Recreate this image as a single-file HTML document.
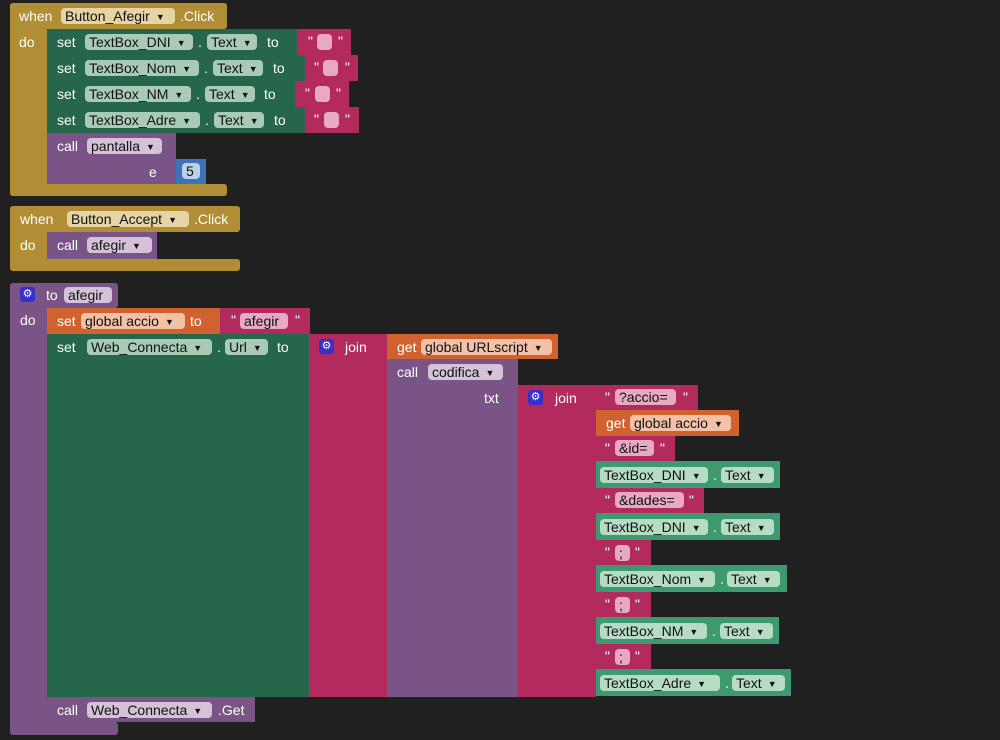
<!DOCTYPE html>
<html><head><meta charset="utf-8"><style>
body{margin:0;width:1000px;height:740px;background:#202020;overflow:hidden;position:relative;font-family:"Liberation Sans",sans-serif}
div{position:absolute;box-sizing:border-box}
.b{border-radius:3px}
.g{background:#b18e35}.gr{background:#26664a}.m{background:#b32a5e}.p{background:#7b5487}.o{background:#d0622f}.bl{background:#3c72b8}.c{background:#3e9a6e}
.t{color:#fff;font-size:14px;line-height:16px;white-space:nowrap}
.f{height:16px;border-radius:4px;font-size:14px;line-height:16px;color:#111;padding:0 4px;white-space:nowrap}
.fg{background:#e6d4a4}.fgr{background:#a9cbb6}.fm{background:#e7a9c3}.fp{background:#d4c2d8}.fo{background:#f2c1a7}.fb{background:#bcd0ea}.fc{background:#b6dcc6}
.ar{font-size:9px;vertical-align:1px;margin-left:6px}
.gear{width:15px;height:15px;background:#3a2fcc;border-radius:3px;color:#fff;font-size:11px;line-height:15px;text-align:center}
</style></head><body>
<!-- Block 1 -->
<div class="g b" style="left:10px;top:3px;width:217px;height:26px"></div>
<div class="g b" style="left:10px;top:3px;width:37px;height:193px"></div>
<div class="g b" style="left:10px;top:184px;width:217px;height:12px"></div>
<div class="t" style="left:19px;top:8px">when</div>
<div class="f fg" style="left:61px;top:8px;width:114px">Button_Afegir<span class="ar">▼</span></div>
<div class="t" style="left:180px;top:8px">.Click</div>
<div class="t" style="left:19px;top:34px">do</div>

<div class="gr" style="left:47px;top:29px;width:253px;height:26px"></div>
<div class="m" style="left:297px;top:29px;width:54px;height:26px"></div>
<div class="gr" style="left:47px;top:55px;width:259px;height:26px"></div>
<div class="m" style="left:305px;top:55px;width:53px;height:26px"></div>
<div class="gr" style="left:47px;top:81px;width:249px;height:26px"></div>
<div class="m" style="left:295px;top:81px;width:54px;height:26px"></div>
<div class="gr" style="left:47px;top:107px;width:259px;height:26px"></div>
<div class="m" style="left:305px;top:107px;width:54px;height:26px"></div>

<div class="t" style="left:57px;top:34px">set</div><div class="f fgr" style="left:85px;top:34px;width:108px">TextBox_DNI<span class="ar">▼</span></div><div class="t" style="left:198px;top:34px">.</div><div class="f fgr" style="left:207px;top:34px;width:50px">Text<span class="ar">▼</span></div><div class="t" style="left:267px;top:34px">to</div>
<div class="t" style="left:308px;top:33px">"</div><div class="f fm" style="left:317px;top:34px;width:15px"></div><div class="t" style="left:338px;top:33px">"</div>
<div class="t" style="left:57px;top:60px">set</div><div class="f fgr" style="left:85px;top:60px;width:114px">TextBox_Nom<span class="ar">▼</span></div><div class="t" style="left:204px;top:60px">.</div><div class="f fgr" style="left:213px;top:60px;width:50px">Text<span class="ar">▼</span></div><div class="t" style="left:273px;top:60px">to</div>
<div class="t" style="left:314px;top:59px">"</div><div class="f fm" style="left:323px;top:60px;width:15px"></div><div class="t" style="left:345px;top:59px">"</div>
<div class="t" style="left:57px;top:86px">set</div><div class="f fgr" style="left:85px;top:86px;width:106px">TextBox_NM<span class="ar">▼</span></div><div class="t" style="left:196px;top:86px">.</div><div class="f fgr" style="left:205px;top:86px;width:50px">Text<span class="ar">▼</span></div><div class="t" style="left:264px;top:86px">to</div>
<div class="t" style="left:305px;top:85px">"</div><div class="f fm" style="left:315px;top:86px;width:15px"></div><div class="t" style="left:336px;top:85px">"</div>
<div class="t" style="left:57px;top:112px">set</div><div class="f fgr" style="left:85px;top:112px;width:115px">TextBox_Adre<span class="ar">▼</span></div><div class="t" style="left:205px;top:112px">.</div><div class="f fgr" style="left:214px;top:112px;width:50px">Text<span class="ar">▼</span></div><div class="t" style="left:274px;top:112px">to</div>
<div class="t" style="left:314px;top:111px">"</div><div class="f fm" style="left:324px;top:112px;width:15px"></div><div class="t" style="left:345px;top:111px">"</div>

<div class="p" style="left:47px;top:133px;width:129px;height:51px"></div>
<div class="t" style="left:57px;top:138px">call</div><div class="f fp" style="left:87px;top:138px;width:75px">pantalla<span class="ar">▼</span></div>
<div class="t" style="left:149px;top:164px">e</div>
<div class="bl" style="left:176px;top:159px;width:30px;height:25px"></div>
<div class="f fb" style="left:182px;top:163px;width:18px">5</div>

<!-- Block 2 -->
<div class="g b" style="left:10px;top:206px;width:230px;height:26px"></div>
<div class="g b" style="left:10px;top:206px;width:37px;height:65px"></div>
<div class="g b" style="left:10px;top:259px;width:230px;height:12px"></div>
<div class="t" style="left:20px;top:211px">when</div>
<div class="f fg" style="left:67px;top:211px;width:122px">Button_Accept<span class="ar">▼</span></div>
<div class="t" style="left:194px;top:211px">.Click</div>
<div class="t" style="left:20px;top:237px">do</div>
<div class="p" style="left:47px;top:232px;width:110px;height:27px"></div>
<div class="t" style="left:57px;top:237px">call</div><div class="f fp" style="left:87px;top:237px;width:65px">afegir<span class="ar">▼</span></div>

<!-- Block 3 -->
<div class="p b" style="left:10px;top:283px;width:108px;height:25px"></div>
<div class="p b" style="left:10px;top:283px;width:37px;height:452px"></div>
<div class="p b" style="left:10px;top:722px;width:108px;height:13px"></div>
<div class="gear" style="left:20px;top:287px">⚙</div>
<div class="t" style="left:46px;top:287px">to</div>
<div class="f fp" style="left:64px;top:287px;width:48px">afegir</div>
<div class="t" style="left:20px;top:312px">do</div>

<div class="o" style="left:47px;top:308px;width:174px;height:26px"></div>
<div class="t" style="left:57px;top:313px">set</div><div class="f fo" style="left:81px;top:313px;width:104px">global accio<span class="ar">▼</span></div><div class="t" style="left:190px;top:313px">to</div>
<div class="m" style="left:220px;top:308px;width:90px;height:26px"></div>
<div class="t" style="left:231px;top:312px">"</div><div class="f fm" style="left:240px;top:313px;width:48px">afegir</div><div class="t" style="left:295px;top:312px">"</div>

<div class="gr" style="left:47px;top:334px;width:262px;height:363px"></div>
<div class="t" style="left:57px;top:339px">set</div><div class="f fgr" style="left:87px;top:339px;width:125px">Web_Connecta<span class="ar">▼</span></div><div class="t" style="left:217px;top:339px">.</div><div class="f fgr" style="left:225px;top:339px;width:43px">Url<span class="ar">▼</span></div><div class="t" style="left:277px;top:339px">to</div>

<div class="m" style="left:309px;top:334px;width:78px;height:363px"></div>
<div class="gear" style="left:319px;top:339px">⚙</div><div class="t" style="left:345px;top:339px">join</div>
<div class="o" style="left:387px;top:334px;width:171px;height:25px"></div>
<div class="t" style="left:397px;top:339px">get</div><div class="f fo" style="left:421px;top:339px;width:131px">global URLscript<span class="ar">▼</span></div>
<div class="p" style="left:387px;top:359px;width:131px;height:338px"></div>
<div class="t" style="left:397px;top:364px">call</div><div class="f fp" style="left:428px;top:364px;width:75px">codifica<span class="ar">▼</span></div>
<div class="t" style="left:484px;top:390px">txt</div>

<div class="m" style="left:518px;top:385px;width:78px;height:312px"></div>
<div class="gear" style="left:528px;top:390px">⚙</div><div class="t" style="left:555px;top:390px">join</div>

<div class="m" style="left:596px;top:385px;width:102px;height:25px"></div>
<div class="t" style="left:605px;top:389px">"</div><div class="f fm" style="left:615px;top:389px;width:61px">?accio=</div><div class="t" style="left:683px;top:389px">"</div>
<div class="o" style="left:596px;top:410px;width:143px;height:26px"></div>
<div class="t" style="left:606px;top:415px">get</div><div class="f fo" style="left:630px;top:415px;width:101px">global accio<span class="ar">▼</span></div>
<div class="m" style="left:596px;top:436px;width:79px;height:25px"></div>
<div class="t" style="left:605px;top:440px">"</div><div class="f fm" style="left:615px;top:440px;width:39px">&amp;id=</div><div class="t" style="left:660px;top:440px">"</div>
<div class="c" style="left:596px;top:461px;width:184px;height:27px"></div>
<div class="f fc" style="left:600px;top:467px;width:108px">TextBox_DNI<span class="ar">▼</span></div><div class="t" style="left:713px;top:467px">.</div><div class="f fc" style="left:721px;top:467px;width:53px">Text<span class="ar">▼</span></div>
<div class="m" style="left:596px;top:488px;width:108px;height:25px"></div>
<div class="t" style="left:605px;top:492px">"</div><div class="f fm" style="left:615px;top:492px;width:69px">&amp;dades=</div><div class="t" style="left:689px;top:492px">"</div>
<div class="c" style="left:596px;top:513px;width:184px;height:27px"></div>
<div class="f fc" style="left:600px;top:519px;width:108px">TextBox_DNI<span class="ar">▼</span></div><div class="t" style="left:713px;top:519px">.</div><div class="f fc" style="left:721px;top:519px;width:53px">Text<span class="ar">▼</span></div>
<div class="m" style="left:596px;top:540px;width:55px;height:25px"></div>
<div class="t" style="left:605px;top:544px">"</div><div class="f fm" style="left:615px;top:545px;width:15px">;</div><div class="t" style="left:635px;top:544px">"</div>
<div class="c" style="left:596px;top:565px;width:191px;height:27px"></div>
<div class="f fc" style="left:600px;top:571px;width:115px">TextBox_Nom<span class="ar">▼</span></div><div class="t" style="left:720px;top:571px">.</div><div class="f fc" style="left:727px;top:571px;width:53px">Text<span class="ar">▼</span></div>
<div class="m" style="left:596px;top:592px;width:55px;height:25px"></div>
<div class="t" style="left:605px;top:596px">"</div><div class="f fm" style="left:615px;top:597px;width:15px">;</div><div class="t" style="left:635px;top:596px">"</div>
<div class="c" style="left:596px;top:617px;width:183px;height:27px"></div>
<div class="f fc" style="left:600px;top:623px;width:107px">TextBox_NM<span class="ar">▼</span></div><div class="t" style="left:712px;top:623px">.</div><div class="f fc" style="left:720px;top:623px;width:53px">Text<span class="ar">▼</span></div>
<div class="m" style="left:596px;top:644px;width:55px;height:25px"></div>
<div class="t" style="left:605px;top:648px">"</div><div class="f fm" style="left:615px;top:649px;width:15px">;</div><div class="t" style="left:635px;top:648px">"</div>
<div class="c" style="left:596px;top:669px;width:195px;height:27px"></div>
<div class="f fc" style="left:600px;top:675px;width:120px">TextBox_Adre<span class="ar">▼</span></div><div class="t" style="left:725px;top:675px">.</div><div class="f fc" style="left:732px;top:675px;width:53px">Text<span class="ar">▼</span></div>

<div class="p" style="left:47px;top:697px;width:208px;height:25px"></div>
<div class="t" style="left:57px;top:702px">call</div><div class="f fp" style="left:87px;top:702px;width:125px">Web_Connecta<span class="ar">▼</span></div><div class="t" style="left:218px;top:702px">.Get</div>
</body></html>
